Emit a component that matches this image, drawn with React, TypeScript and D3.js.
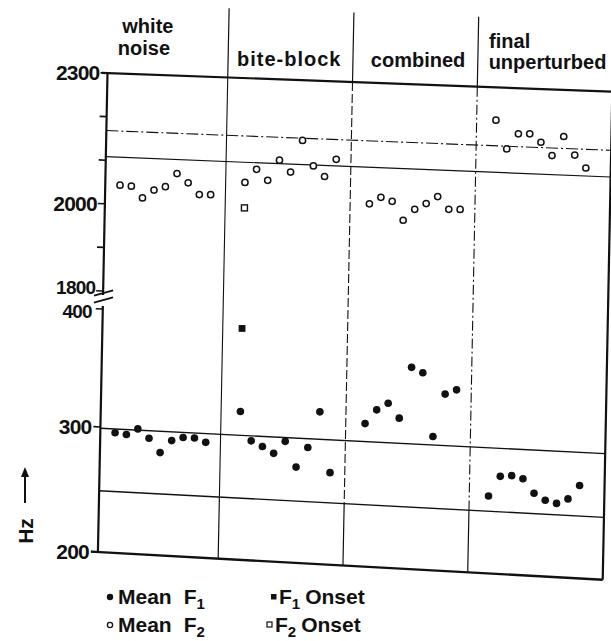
import React from "react";
import * as d3 from "d3";

// one column per condition, header split in lines
const conditions = ["white noise", "bite-block", "combined", "final unperturbed"];
const headerLines = [["white", "noise"], ["bite-block"], ["combined"], ["final", "unperturbed"]];

// mean F2 per token (Hz)
const meanF2WhiteNoise = [2044, 2043, 2017, 2036, 2045, 2076, 2056, 2030, 2031];
const meanF2BiteBlock = [2062, 2093, 2069, 2116, 2090, 2163, 2106, 2083, 2123];
const meanF2Combined = [2025, 2041, 2033, 1991, 2017, 2031, 2048, 2020, 2021];
const meanF2Final = [2226, 2162, 2197, 2198, 2180, 2151, 2195, 2154, 2126];

// mean F1 per token (Hz)
const meanF1WhiteNoise = [296, 295, 300, 293, 282, 292, 295, 295, 292];
const meanF1BiteBlock = [319, 295, 291, 286, 296, 276, 292, 322, 273];
const meanF1Combined = [314, 326, 332, 320, 363, 359, 306, 342, 346];
const meanF1Final = [261, 277, 278, 276, 265, 260, 258, 262, 273];

// onsets, only for the first bite-block token
const onsetF1 = [null, 389, null, null];
const onsetF2 = [null, 2004, null, null];

// unperturbed range lines
const f2Band = [2168, 2108];
const f1Band = [299, 249];

const f2Ticks = [2300, 2200, 2100, 2000, 1900, 1800];
const f2Labels = [2300, 2000, 1800];
const f1Ticks = [400, 300, 200];
const f1Labels = [400, 300, 200];

const meanF2 = [meanF2WhiteNoise, meanF2BiteBlock, meanF2Combined, meanF2Final];
const meanF1 = [meanF1WhiteNoise, meanF1BiteBlock, meanF1Combined, meanF1Final];

const ink = "#111";
const font = "'Liberation Sans', Arial, Helvetica, sans-serif";

export default function App() {
  const W = 611, H = 641;
  const left = 107.5, right = 612.3, top = 73, bottom = 552;

  const x = d3.scaleLinear().domain([0, 44.5]).range([left, right]);
  const yF2 = d3.scaleLinear().domain([1800, 2300]).range([291, top]);
  // the printed scale is a little tighter above 300 than below
  const yF1 = d3.scaleLinear().domain([200, 300, 400]).range([bottom, 427, 309]);

  const perCond = 11;
  const slot = (k: number, i: number) => k * perCond + 1.3 + i;
  const sepSlot = (k: number) => k * perCond - 0.4;

  // scanned sheet: skewed, and more so towards the bottom
  const P = (xi: number, yi: number): [number, number] => {
    const b = 0.037 + (0.018 * (yi - top)) / (bottom - top);
    return [xi - 0.02 * (yi - top), yi + b * (xi - left)];
  };
  const seg = (key: string, x1: number, y1: number, x2: number, y2: number, props: any = {}) => {
    const [a, b] = P(x1, y1);
    const [c, d] = P(x2, y2);
    return <line key={key} x1={a} y1={b} x2={c} y2={d} stroke={ink} {...props} />;
  };

  const lines: any[] = [];
  // frame
  lines.push(seg("top", left - 6, top, right, top, { strokeWidth: 2.2 }));
  lines.push(seg("bottom", left - 7, bottom, right, bottom, { strokeWidth: 2.4 }));
  lines.push(seg("right", right, top, right, bottom, { strokeWidth: 2.2 }));
  lines.push(seg("axisF2", left, top, left, yF2(1800) + 4, { strokeWidth: 2.2 }));
  lines.push(seg("axisF1", left, yF1(400) - 3, left, bottom, { strokeWidth: 2.2 }));
  // axis break
  lines.push(seg("brk1", left - 9, yF2(1800) + 5, left + 10, yF2(1800) - 1, { strokeWidth: 1.8 }));
  lines.push(seg("brk2", left - 9, yF2(1800) + 12, left + 10, yF2(1800) + 6, { strokeWidth: 1.8 }));
  f2Ticks.forEach((t) => lines.push(seg("t2" + t, left - 7, yF2(t), left, yF2(t), { strokeWidth: 1.6 })));
  f1Ticks.forEach((t) => lines.push(seg("t1" + t, left - 7, yF1(t), left, yF1(t), { strokeWidth: 1.6 })));

  // column separators
  [1, 2, 3].forEach((k) => {
    const xs = x(sepSlot(k));
    const dash = k === 1 ? undefined : k === 2 ? "9 3" : "10 3 2 3";
    lines.push(seg("sa" + k, xs, 4, xs, top, { strokeWidth: 1.2 }));
    lines.push(seg("sb" + k, xs, top, xs, yF1(f1Band[1]), { strokeWidth: 1.1, strokeDasharray: dash }));
    lines.push(seg("sc" + k, xs, yF1(f1Band[1]), xs, bottom, { strokeWidth: 1.2 }));
  });

  // range lines
  lines.push(seg("f2b0", left, yF2(f2Band[0]), right, yF2(f2Band[0]), { strokeWidth: 1.1, strokeDasharray: "12 3 2 3" }));
  lines.push(seg("f2b1", left, yF2(f2Band[1]), right, yF2(f2Band[1]), { strokeWidth: 1.2 }));
  f1Band.forEach((v, i) => lines.push(seg("f1b" + i, left, yF1(v), right, yF1(v), { strokeWidth: 1.4 })));

  const marks: any[] = [];
  conditions.forEach((c, k) => {
    meanF2[k].forEach((v, i) => {
      const [px, py] = P(x(slot(k, i)), yF2(v));
      marks.push(<circle key={`f2-${k}-${i}`} cx={px} cy={py} r={3.1} fill="#fff" stroke={ink} strokeWidth={1.5} />);
    });
    meanF1[k].forEach((v, i) => {
      const [px, py] = P(x(slot(k, i)), yF1(v));
      marks.push(<circle key={`f1-${k}-${i}`} cx={px} cy={py} r={3.8} fill={ink} />);
    });
    if (onsetF2[k] != null) {
      const [px, py] = P(x(slot(k, 0)), yF2(onsetF2[k] as number));
      marks.push(<rect key={`o2-${k}`} x={px - 3} y={py - 3} width={6} height={6} fill="#fff" stroke={ink} strokeWidth={1.4} />);
    }
    if (onsetF1[k] != null) {
      const [px, py] = P(x(slot(k, 0)), yF1(onsetF1[k] as number));
      marks.push(<rect key={`o1-${k}`} x={px - 3.4} y={py - 3.4} width={6.8} height={6.8} fill={ink} />);
    }
  });

  // headers, left edge relative to column start
  const headerDx = [14, 9, 18, 11];
  const headerRows = [[33, 55], [61], [57], [34, 55]];
  const headers: any[] = [];
  headerLines.forEach((ls, k) => {
    const x0 = k === 0 ? left : x(sepSlot(k));
    ls.forEach((t, j) => {
      const [px, py] = P(x0 + headerDx[k] - (k === 0 && j === 1 ? 4 : 0), headerRows[k][j]);
      headers.push(
        <text key={`h${k}${j}`} x={px} y={py} fontSize={20} fontWeight="bold" letterSpacing={k === 1 ? 1 : 0}>
          {t}
        </text>
      );
    });
  });

  // tick labels; the two at the axis break are nudged apart and set smaller
  const tickLabels: any[] = [];
  f2Labels.forEach((t) => {
    const atBreak = t === 1800;
    const [px, py] = P(left - 8, yF2(t) - (atBreak ? 3 : 0));
    tickLabels.push(<text key={"l2" + t} x={px} y={py} dy="0.36em" textAnchor="end" fontSize={atBreak ? 19 : 21} fontWeight="bold" letterSpacing={-0.8}>{t}</text>);
  });
  f1Labels.forEach((t) => {
    const atBreak = t === 400;
    const [px, py] = P(left - (atBreak ? 11 : 9), yF1(t) + (atBreak ? 3 : 0));
    tickLabels.push(<text key={"l1" + t} x={px} y={py} dy="0.36em" textAnchor="end" fontSize={atBreak ? 19 : 21} fontWeight="bold" letterSpacing={-0.8}>{t}</text>);
  });

  return (
    <svg width={W} height={H} style={{ position: "absolute", left: 0, top: 0, background: "#fff" }} fontFamily={font} fill={ink}>
      {lines}
      {marks}
      {headers}
      {tickLabels}

      {/* y axis title */}
      <line x1={25} y1={503} x2={25} y2={476} stroke={ink} strokeWidth={2} />
      <path d="M25,467 L21,477 L29,477 Z" fill={ink} />
      <text transform="translate(33,531) rotate(-90)" textAnchor="middle" fontSize={21} fontWeight="bold">Hz</text>

      {/* legend */}
      <g fontSize={21} fontWeight="bold">
        <circle cx={110} cy={597} r={3.2} fill={ink} />
        <text x={118} y={604}>Mean<tspan dx={12}>F</tspan><tspan dy={5} fontSize={15}>1</tspan></text>
        <rect x={271} y={594} width={5.5} height={5.5} fill={ink} />
        <text x={279} y={604}>F<tspan dy={5} fontSize={15}>1</tspan><tspan dy={-5} dx={5}>Onset</tspan></text>

        <circle cx={110} cy={625} r={2.6} fill="#fff" stroke={ink} strokeWidth={1.3} />
        <text x={118} y={632}>Mean<tspan dx={12}>F</tspan><tspan dy={5} fontSize={15}>2</tspan></text>
        <rect x={267} y={622} width={5} height={5} fill="#fff" stroke={ink} strokeWidth={1.2} />
        <text x={275} y={632}>F<tspan dy={5} fontSize={15}>2</tspan><tspan dy={-5} dx={5}>Onset</tspan></text>
      </g>
    </svg>
  );
}
